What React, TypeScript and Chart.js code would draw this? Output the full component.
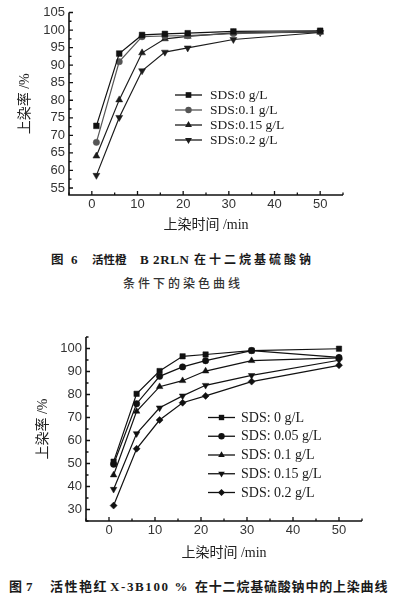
import React, { useEffect, useRef } from "react";
import { Chart, registerables } from "chart.js";

Chart.register(...registerables);

// ---------- data ----------
const times = [1, 6, 11, 16, 21, 31, 50];
const xTicks = [0, 10, 20, 30, 40, 50];

const fig6Labels = ["SDS:0 g/L", "SDS:0.1 g/L", "SDS:0.15 g/L", "SDS:0.2 g/L"];
const fig6Sds0 = [72.7, 93.3, 98.6, 98.9, 99.1, 99.6, 99.8];
const fig6Sds01 = [68.0, 91.0, 98.1, 98.3, 98.4, 99.0, 99.6];
const fig6Sds015 = [64.1, 80.1, 93.5, 97.5, 98.2, 99.2, 99.4];
const fig6Sds02 = [58.6, 75.1, 88.4, 93.7, 94.9, 97.3, 99.3];
const fig6YTicks = [55, 60, 65, 70, 75, 80, 85, 90, 95, 100, 105];

const fig7Labels = ["SDS: 0 g/L", "SDS: 0.05 g/L", "SDS: 0.1 g/L", "SDS: 0.15 g/L", "SDS: 0.2 g/L"];
const fig7Sds0 = [50.8, 80.3, 90.2, 96.6, 97.4, 99.1, 99.9];
const fig7Sds005 = [49.7, 76.0, 87.9, 92.0, 94.7, 99.1, 96.1];
const fig7Sds01 = [45.0, 72.7, 83.4, 86.0, 90.2, 94.7, 95.9];
const fig7Sds015 = [38.8, 63.0, 74.2, 79.4, 84.0, 88.3, 94.9];
const fig7Sds02 = [31.7, 56.4, 68.9, 76.4, 79.4, 85.6, 92.7];
const fig7YTicks = [30, 40, 50, 60, 70, 80, 90, 100];

const xTitle = "上染时间 /min";
const yTitle = "上染率 /%";

// ---------- helpers ----------
const TICK_FONT = "'Liberation Sans', Arial, sans-serif";
const TITLE_FONT = "'Liberation Serif', 'Noto Sans CJK SC', serif";
const LEGEND_FONT = "'Liberation Serif', serif";
const CAP_FONT = "'Liberation Serif', 'Noto Sans CJK SC', serif";

function midpoints(ticks: number[], min: number, max: number) {
  const out: number[] = [];
  const step = ticks[1] - ticks[0];
  if (ticks[0] - step / 2 >= min) out.push(ticks[0] - step / 2);
  for (let i = 1; i < ticks.length; i++) out.push((ticks[i] + ticks[i - 1]) / 2);
  const last = ticks[ticks.length - 1];
  if (last + step / 2 <= max) out.push(last + step / 2);
  return out;
}

function drawMarker(ctx: CanvasRenderingContext2D, style: string, rot: number, r: number, x: number, y: number) {
  ctx.beginPath();
  if (style === "rect") {
    const s = Math.SQRT1_2 * r;
    ctx.rect(x - s, y - s, 2 * s, 2 * s);
  } else if (style === "circle") {
    ctx.arc(x, y, r, 0, Math.PI * 2);
  } else if (style === "triangle") {
    const a = (rot * Math.PI) / 180;
    for (let k = 0; k < 3; k++) {
      const ang = a - Math.PI / 2 + (k * 2 * Math.PI) / 3;
      const px = x + Math.cos(ang) * r;
      const py = y + Math.sin(ang) * r;
      if (k === 0) ctx.moveTo(px, py);
      else ctx.lineTo(px, py);
    }
    ctx.closePath();
  } else if (style === "rectRot") {
    ctx.moveTo(x, y - r);
    ctx.lineTo(x + r, y);
    ctx.lineTo(x, y + r);
    ctx.lineTo(x - r, y);
    ctx.closePath();
  }
  ctx.fill();
}

const innerTicksPlugin = {
  id: "innerTicks",
  afterDraw(chart: any, _args: any, opts: any) {
    const { ctx, chartArea } = chart;
    const xs = chart.scales.x;
    const ys = chart.scales.y;
    const { left, right, top, bottom } = chartArea;
    ctx.save();
    ctx.strokeStyle = "#111";
    ctx.lineWidth = 1.6;
    ctx.beginPath();
    ctx.moveTo(left, top);
    ctx.lineTo(left, bottom);
    ctx.lineTo(right, bottom);
    ctx.stroke();
    ctx.lineWidth = 1.3;
    ctx.beginPath();
    const xMin = midpoints(opts.xMajor, xs.min, xs.max);
    const yMin = midpoints(opts.yMajor, ys.min, ys.max);
    opts.xMajor.forEach((v: number) => {
      const p = xs.getPixelForValue(v);
      ctx.moveTo(p, bottom);
      ctx.lineTo(p, bottom - 4);
    });
    xMin.forEach((v: number) => {
      const p = xs.getPixelForValue(v);
      ctx.moveTo(p, bottom);
      ctx.lineTo(p, bottom - 2.5);
    });
    opts.yMajor.forEach((v: number) => {
      const p = ys.getPixelForValue(v);
      ctx.moveTo(left, p);
      ctx.lineTo(left + 4, p);
    });
    yMin.forEach((v: number) => {
      const p = ys.getPixelForValue(v);
      ctx.moveTo(left, p);
      ctx.lineTo(left + 2.5, p);
    });
    ctx.stroke();
    ctx.restore();
  },
};

const boxLegendPlugin = {
  id: "boxLegend",
  afterDraw(chart: any, _args: any, opts: any) {
    const { ctx } = chart;
    ctx.save();
    ctx.font = `${opts.fontSize}px ${LEGEND_FONT}`;
    ctx.textBaseline = "middle";
    ctx.textAlign = "left";
    chart.data.datasets.forEach((ds: any, i: number) => {
      const y = opts.y0 + i * opts.step;
      ctx.strokeStyle = ds.borderColor;
      ctx.fillStyle = ds.backgroundColor;
      ctx.lineWidth = 1.3;
      ctx.beginPath();
      ctx.moveTo(opts.x0, y);
      ctx.lineTo(opts.x0 + opts.len, y);
      ctx.stroke();
      drawMarker(ctx, ds.pointStyle, ds.pointRotation || 0, ds.pointRadius, opts.x0 + opts.len / 2, y);
      ctx.fillStyle = "#1a1a1a";
      ctx.fillText(ds.label, opts.textX, y + 0.5);
    });
    ctx.restore();
  },
};

type Sty = { style: string; rot: number; r: number; color: string };

function makeDatasets(labels: string[], series: number[][], styles: Sty[]) {
  return series.map((vals, i) => ({
    label: labels[i],
    data: times.map((t, j) => ({ x: t, y: vals[j] })),
    borderColor: styles[i].color,
    backgroundColor: styles[i].color,
    borderWidth: 1.2,
    pointStyle: styles[i].style,
    pointRotation: styles[i].rot,
    pointRadius: styles[i].r,
    pointBorderWidth: 0.5,
    tension: 0,
    showLine: true,
    clip: false as any,
  }));
}

type Geo = {
  padTop: number;
  padRight: number;
  yWidth: number;
  xHeight: number;
  yMin: number;
  yMax: number;
  yTicks: number[];
  yTitlePad: number;
  xTitlePad: number;
  legend: any;
};

function buildChart(canvas: HTMLCanvasElement, datasets: any[], g: Geo) {
  const tickFont = { family: TICK_FONT, size: 13 };
  const titleFont = { family: TITLE_FONT, size: 14 };
  return new Chart(canvas, {
    type: "line",
    data: { datasets },
    options: {
      responsive: false,
      animation: false,
      events: [],
      layout: { padding: { top: g.padTop, right: g.padRight, left: 0, bottom: 0 } },
      plugins: {
        legend: { display: false },
        tooltip: { enabled: false },
        innerTicks: { xMajor: xTicks, yMajor: g.yTicks },
        boxLegend: g.legend,
      } as any,
      scales: {
        x: {
          type: "linear",
          min: -5,
          max: 55,
          afterBuildTicks: (s: any) => {
            s.ticks = xTicks.map((v) => ({ value: v }));
          },
          afterFit: (s: any) => {
            s.height = g.xHeight;
          },
          grid: { display: false, drawTicks: false },
          border: { display: false },
          ticks: { padding: 2, font: tickFont, color: "#333", maxRotation: 0, autoSkip: false },
          title: {
            display: true,
            text: xTitle,
            font: titleFont,
            color: "#222",
            padding: { top: 0, bottom: g.xTitlePad },
          },
        },
        y: {
          type: "linear",
          min: g.yMin,
          max: g.yMax,
          afterBuildTicks: (s: any) => {
            s.ticks = g.yTicks.map((v) => ({ value: v }));
          },
          afterFit: (s: any) => {
            s.width = g.yWidth;
          },
          grid: { display: false, drawTicks: false },
          border: { display: false },
          ticks: { padding: 4, font: tickFont, color: "#333", autoSkip: false },
          title: {
            display: true,
            text: yTitle,
            font: titleFont,
            color: "#222",
            padding: { top: g.yTitlePad, bottom: 0 },
          },
        },
      },
    } as any,
    plugins: [innerTicksPlugin, boxLegendPlugin],
  });
}

const capBase: React.CSSProperties = {
  position: "absolute",
  fontFamily: CAP_FONT,
  color: "#1a1a1a",
  whiteSpace: "pre",
  lineHeight: "16px",
  height: 16,
};

export default function App() {
  const c1 = useRef<HTMLCanvasElement | null>(null);
  const c2 = useRef<HTMLCanvasElement | null>(null);

  useEffect(() => {
    const ds1 = makeDatasets(fig6Labels, [fig6Sds0, fig6Sds01, fig6Sds015, fig6Sds02], [
      { style: "rect", rot: 0, r: 4, color: "#111" },
      { style: "circle", rot: 0, r: 3.2, color: "#555" },
      { style: "triangle", rot: 0, r: 4, color: "#1c1c1c" },
      { style: "triangle", rot: 180, r: 4, color: "#1c1c1c" },
    ]);
    const ds2 = makeDatasets(fig7Labels, [fig7Sds0, fig7Sds005, fig7Sds01, fig7Sds015, fig7Sds02], [
      { style: "rect", rot: 0, r: 3.8, color: "#111" },
      { style: "circle", rot: 0, r: 3.2, color: "#111" },
      { style: "triangle", rot: 0, r: 3.8, color: "#111" },
      { style: "triangle", rot: 180, r: 3.8, color: "#111" },
      { style: "rectRot", rot: 0, r: 3.5, color: "#111" },
    ]);
    const ch1 = buildChart(c1.current!, ds1, {
      padTop: 12.5,
      padRight: 54,
      yWidth: 69,
      xHeight: 45,
      yMin: 53,
      yMax: 105,
      yTicks: fig6YTicks,
      yTitlePad: 16.6,
      xTitlePad: 6.6,
      legend: { x0: 175, len: 27, textX: 210, y0: 95, step: 15, fontSize: 13.5 },
    });
    const ch2 = buildChart(c2.current!, ds2, {
      padTop: 37,
      padRight: 35,
      yWidth: 86,
      xHeight: 49,
      yMin: 25,
      yMax: 105,
      yTicks: fig7YTicks,
      yTitlePad: 34.6,
      xTitlePad: 8.6,
      legend: { x0: 208, len: 27, textX: 241, y0: 117.5, step: 18.75, fontSize: 14 },
    });
    return () => {
      ch1.destroy();
      ch2.destroy();
    };
  }, []);

  return (
    <div
      style={{
        position: "absolute",
        left: 0,
        top: 0,
        width: 397,
        height: 602,
        background: "#fff",
        overflow: "hidden",
      }}
    >
      <canvas ref={c1} width={397} height={240} style={{ position: "absolute", left: 0, top: 0 }} />
      {/* caption 6 */}
      <span style={{ ...capBase, left: 51, top: 252, fontSize: 12.5, fontWeight: 700 }}>图</span>
      <span style={{ ...capBase, left: 71, top: 252, fontSize: 13, fontWeight: 700 }}>6</span>
      <span style={{ ...capBase, left: 92, top: 252, fontSize: 11.5, fontWeight: 700 }}>活性橙</span>
      <span style={{ ...capBase, left: 140, top: 252, fontSize: 13, fontWeight: 700, letterSpacing: 0.6 }}>
        B 2RLN
      </span>
      <span style={{ ...capBase, left: 194, top: 252, fontSize: 12, fontWeight: 700, letterSpacing: 3 }}>
        在十二烷基硫酸钠
      </span>
      <span style={{ ...capBase, left: 123, top: 276, fontSize: 12, fontWeight: 500, letterSpacing: 3, color: "#333" }}>
        条件下的染色曲线
      </span>

      <canvas ref={c2} width={397} height={270} style={{ position: "absolute", left: 0, top: 300 }} />
      {/* caption 7 */}
      <span style={{ ...capBase, left: 9, top: 579, fontSize: 13, fontWeight: 700 }}>图</span>
      <span style={{ ...capBase, left: 26, top: 579, fontSize: 13, fontWeight: 700 }}>7</span>
      <span style={{ ...capBase, left: 50, top: 579, fontSize: 13, fontWeight: 700, letterSpacing: 1.5 }}>
        活性艳红
      </span>
      <span style={{ ...capBase, left: 110, top: 579, fontSize: 13, fontWeight: 700, letterSpacing: 1.6 }}>
        X-3B100 %
      </span>
      <span style={{ ...capBase, left: 195, top: 579, fontSize: 13, fontWeight: 700, letterSpacing: 0.8 }}>
        在十二烷基硫酸钠中的上染曲线
      </span>
    </div>
  );
}
